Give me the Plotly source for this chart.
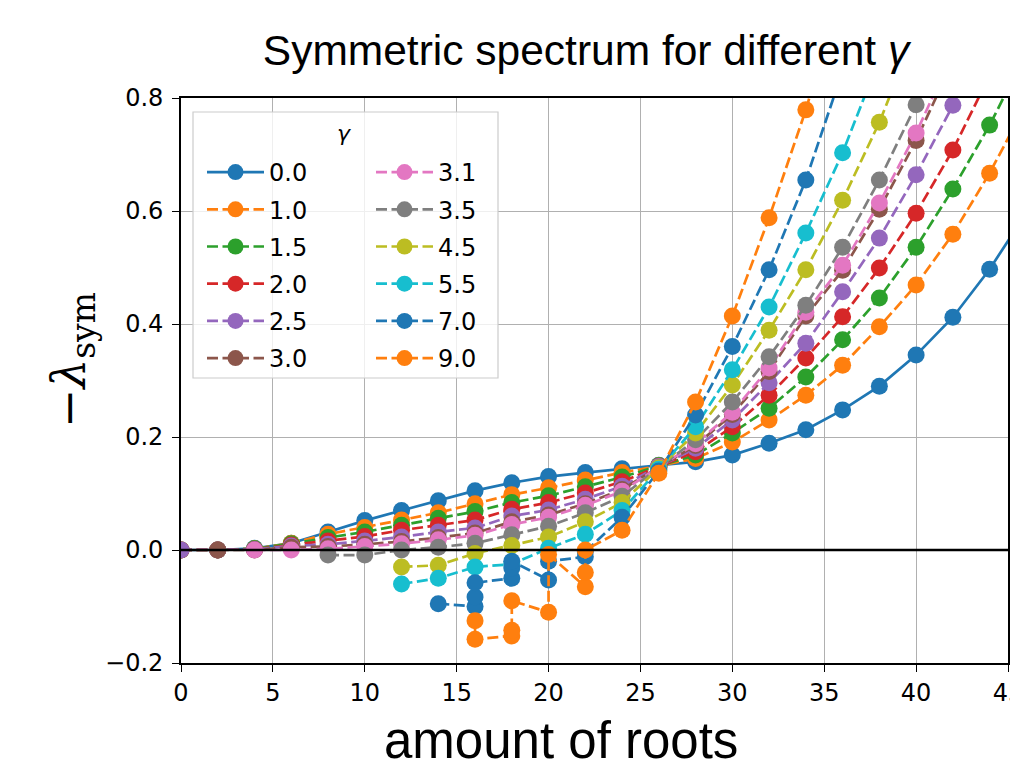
import plotly.graph_objects as go

# ---------------- data ----------------
gamma_labels = ["0.0", "1.0", "1.5", "2.0", "2.5", "3.0", "3.1", "3.5", "4.5", "5.5", "7.0", "9.0"]
colors = ["#1f77b4", "#ff7f0e", "#2ca02c", "#d62728", "#9467bd", "#8c564b",
          "#e377c2", "#7f7f7f", "#bcbd22", "#17becf", "#1f77b4", "#ff7f0e"]

x_g00 = [0, 2, 4, 6, 8, 10, 12, 14, 16, 18, 20, 22, 24, 26, 28, 30, 32, 34, 36, 38, 40, 42, 44, 46]
y_g00 = [0.000, 0.000, 0.003, 0.012, 0.032, 0.052, 0.070, 0.087, 0.105, 0.119, 0.130, 0.137, 0.144,
         0.150, 0.156, 0.168, 0.189, 0.213, 0.248, 0.290, 0.345, 0.412, 0.497, 0.597]

x_g10 = [0, 2, 4, 6, 8, 10, 12, 14, 16, 18, 20, 22, 24, 26, 28, 30, 32, 34, 36, 38, 40, 42, 44, 46]
y_g10 = [0.000, 0.000, 0.002, 0.012, 0.028, 0.040, 0.053, 0.066, 0.082, 0.098, 0.110, 0.124, 0.137,
         0.149, 0.162, 0.191, 0.230, 0.274, 0.327, 0.395, 0.469, 0.559, 0.667, 0.790]

x_g15 = [0, 2, 4, 6, 8, 10, 12, 14, 16, 18, 20, 22, 24, 26, 28, 30, 32, 34, 36, 38, 40, 42, 44, 46]
y_g15 = [0.000, 0.000, 0.002, 0.011, 0.022, 0.032, 0.044, 0.056, 0.068, 0.084, 0.096, 0.112, 0.129,
         0.149, 0.168, 0.207, 0.251, 0.306, 0.372, 0.446, 0.536, 0.639, 0.752, 0.880]

x_g20 = [0, 2, 4, 6, 8, 10, 12, 14, 16, 18, 20, 22, 24, 26, 28, 30, 32, 34, 36, 38, 40, 42, 44]
y_g20 = [0.000, 0.000, 0.001, 0.009, 0.016, 0.024, 0.035, 0.044, 0.053, 0.072, 0.084, 0.101, 0.121,
         0.148, 0.174, 0.218, 0.274, 0.340, 0.413, 0.499, 0.596, 0.708, 0.840]

x_g25 = [0, 2, 4, 6, 8, 10, 12, 14, 16, 18, 20, 22, 24, 26, 28, 30, 32, 34, 36, 38, 40, 42, 44]
y_g25 = [0.000, 0.000, 0.001, 0.007, 0.010, 0.016, 0.023, 0.032, 0.039, 0.060, 0.071, 0.090, 0.113,
         0.148, 0.180, 0.230, 0.296, 0.366, 0.457, 0.552, 0.664, 0.787, 0.930]

x_g30 = [2, 4, 6, 8, 10, 12, 14, 16, 18, 20, 22, 24, 26, 28, 30, 32, 34, 36, 38, 40, 42]
y_g30 = [0.000, 0.000, 0.005, 0.006, 0.010, 0.015, 0.022, 0.030, 0.050, 0.062, 0.082, 0.107, 0.147,
         0.185, 0.240, 0.316, 0.414, 0.495, 0.603, 0.725, 0.865]

x_g31 = [4, 6, 8, 10, 12, 14, 16, 18, 20, 22, 24, 26, 28, 30, 32, 34, 36, 38, 40, 42]
y_g31 = [0.000, 0.000, 0.002, 0.006, 0.011, 0.018, 0.026, 0.045, 0.058, 0.079, 0.104, 0.147, 0.188,
         0.244, 0.322, 0.421, 0.504, 0.614, 0.738, 0.880]

x_g35 = [8, 10, 12, 14, 16, 18, 20, 22, 24, 26, 28, 30, 32, 34, 36, 38, 40, 42]
y_g35 = [-0.009, -0.009, 0.000, 0.005, 0.012, 0.027, 0.042, 0.066, 0.095, 0.146, 0.195, 0.262,
         0.342, 0.433, 0.536, 0.655, 0.788, 0.940]

x_g45 = [12, 14, 16, 18, 20, 22, 24, 26, 28, 30, 32, 34, 36, 38, 40]
y_g45 = [-0.030, -0.027, -0.006, 0.008, 0.023, 0.050, 0.084, 0.145, 0.207, 0.292, 0.389, 0.496,
         0.619, 0.757, 0.920]

x_g55 = [12, 14, 16, 18, 20, 22, 24, 26, 28, 30, 32, 34, 36, 38]
y_g55 = [-0.060, -0.050, -0.030, -0.025, 0.003, 0.028, 0.070, 0.143, 0.218, 0.319, 0.430, 0.561,
         0.703, 0.870]

x_g70 = [14, 16, 16, 16, 18, 18, 18, 20, 20, 22, 22, 24, 26, 28, 30, 32, 34, 36]
y_g70 = [-0.095, -0.100, -0.083, -0.058, -0.050, -0.032, -0.020, -0.053, -0.020, -0.012, -0.003,
         0.058, 0.140, 0.239, 0.360, 0.496, 0.655, 0.848]

x_g90 = [16, 16, 18, 18, 18, 20, 20, 22, 22, 22, 24, 26, 28, 30, 32, 34, 36]
y_g90 = [-0.125, -0.158, -0.152, -0.142, -0.090, -0.110, -0.008, -0.065, -0.040, 0.000, 0.035,
         0.136, 0.262, 0.414, 0.588, 0.779, 1.000]

xs = [x_g00, x_g10, x_g15, x_g20, x_g25, x_g30, x_g31, x_g35, x_g45, x_g55, x_g70, x_g90]
ys = [y_g00, y_g10, y_g15, y_g20, y_g25, y_g30, y_g31, y_g35, y_g45, y_g55, y_g70, y_g90]

x_ticks = [0, 5, 10, 15, 20, 25, 30, 35, 40, 45]
y_ticks = [-0.2, 0.0, 0.2, 0.4, 0.6, 0.8]
y_ticktext = ["\u22120.2", "0.0", "0.2", "0.4", "0.6", "0.8"]

# ---------------- figure ----------------
fig = go.Figure()
for i, (lab, col, xv, yv) in enumerate(zip(gamma_labels, colors, xs, ys)):
    fig.add_trace(go.Scatter(
        x=xv, y=yv, name=lab, mode="lines+markers",
        line=dict(color=col, width=2.7, dash="solid" if i == 0 else "11px,4.5px"),
        marker=dict(color=col, size=17, symbol="circle"),
        legend="legend" if i < 6 else "legend2",
        legendgroup=lab,
        cliponaxis=True,
    ))

# page offset of the plot div (default body margin) is compensated here
OFF = 8
W, H = 1018 - OFF, 774 - OFF
PL, PR, PT, PB = 181, 1008, 98, 663          # plot area in page pixels
ML, MR, MT, MB = PL - OFF, W - (PR - OFF), PT - OFF, H - (PB - OFF)
pw, ph = PR - PL, PB - PT


def px_x(p):
    return (p - PL) / pw


def px_y(p):
    return (PB - p) / ph


legend_common = dict(
    bgcolor="rgba(0,0,0,0)", borderwidth=0,
    font=dict(family="DejaVu Sans", size=24, color="black"),
    itemwidth=57, tracegroupgap=3, itemclick=False,
    xanchor="left", yanchor="top",
)

tickfont = dict(family="DejaVu Sans", size=24, color="black")

fig.update_layout(
    width=W, height=H,
    margin=dict(l=ML, r=MR, t=MT, b=MB, autoexpand=False),
    paper_bgcolor="white", plot_bgcolor="white",
    showlegend=True,
    legend=dict(x=px_x(202), y=px_y(150), **legend_common),
    legend2=dict(x=px_x(371), y=px_y(150), **legend_common),
    title=dict(
        text="Symmetric spectrum for different <i>γ</i>",
        x=(586 - OFF) / W, xanchor="center", xref="container",
        y=1 - (50 - OFF) / H, yanchor="middle", yref="container",
        font=dict(family="Liberation Sans", size=42.5, color="black"),
    ),
    xaxis=dict(
        range=[0, 45], tickvals=x_ticks, ticktext=[str(v) for v in x_ticks],
        showgrid=True, gridcolor="#b0b0b0", gridwidth=1.2,
        showline=True, linecolor="black", linewidth=1.6, mirror=True,
        ticks="outside", ticklen=7, tickwidth=1.4, tickcolor="black",
        tickfont=tickfont, zeroline=False, automargin=False,
        ticklabeloverflow="allow",
    ),
    yaxis=dict(
        range=[-0.2, 0.8], tickvals=y_ticks, ticktext=y_ticktext,
        showgrid=True, gridcolor="#b0b0b0", gridwidth=1.2,
        showline=True, linecolor="black", linewidth=1.6, mirror=True,
        ticks="outside", ticklen=7, tickwidth=1.4, tickcolor="black",
        tickfont=tickfont, zeroline=False, automargin=False,
        ticklabelstandoff=4,
    ),
    shapes=[
        dict(type="line", xref="paper", yref="y", x0=0, x1=1, y0=0, y1=0,
             line=dict(color="black", width=2.7), layer="above"),
        dict(type="rect", xref="paper", yref="paper",
             x0=px_x(193), x1=px_x(498), y0=px_y(378), y1=px_y(112),
             fillcolor="rgba(255,255,255,0.8)", line=dict(color="#cccccc", width=1.2),
             layer="above"),
    ],
    annotations=[
        dict(text="<i>γ</i>", xref="paper", yref="paper", x=px_x(344), y=px_y(133),
             showarrow=False, font=dict(family="DejaVu Sans", size=22, color="black"),
             xanchor="center", yanchor="middle"),
        dict(text="amount of roots", xref="paper", yref="paper", x=px_x(561), y=px_y(740),
             showarrow=False, font=dict(family="Liberation Sans", size=51, color="black"),
             xanchor="center", yanchor="middle"),
        dict(text="\u2212<i>λ</i><sub>sym</sub>", xref="paper", yref="paper",
             x=px_x(72), y=px_y(360), textangle=-90,
             showarrow=False, font=dict(family="DejaVu Serif", size=47, color="black"),
             xanchor="center", yanchor="middle"),
    ],
)

fig.write_html("out.html")
